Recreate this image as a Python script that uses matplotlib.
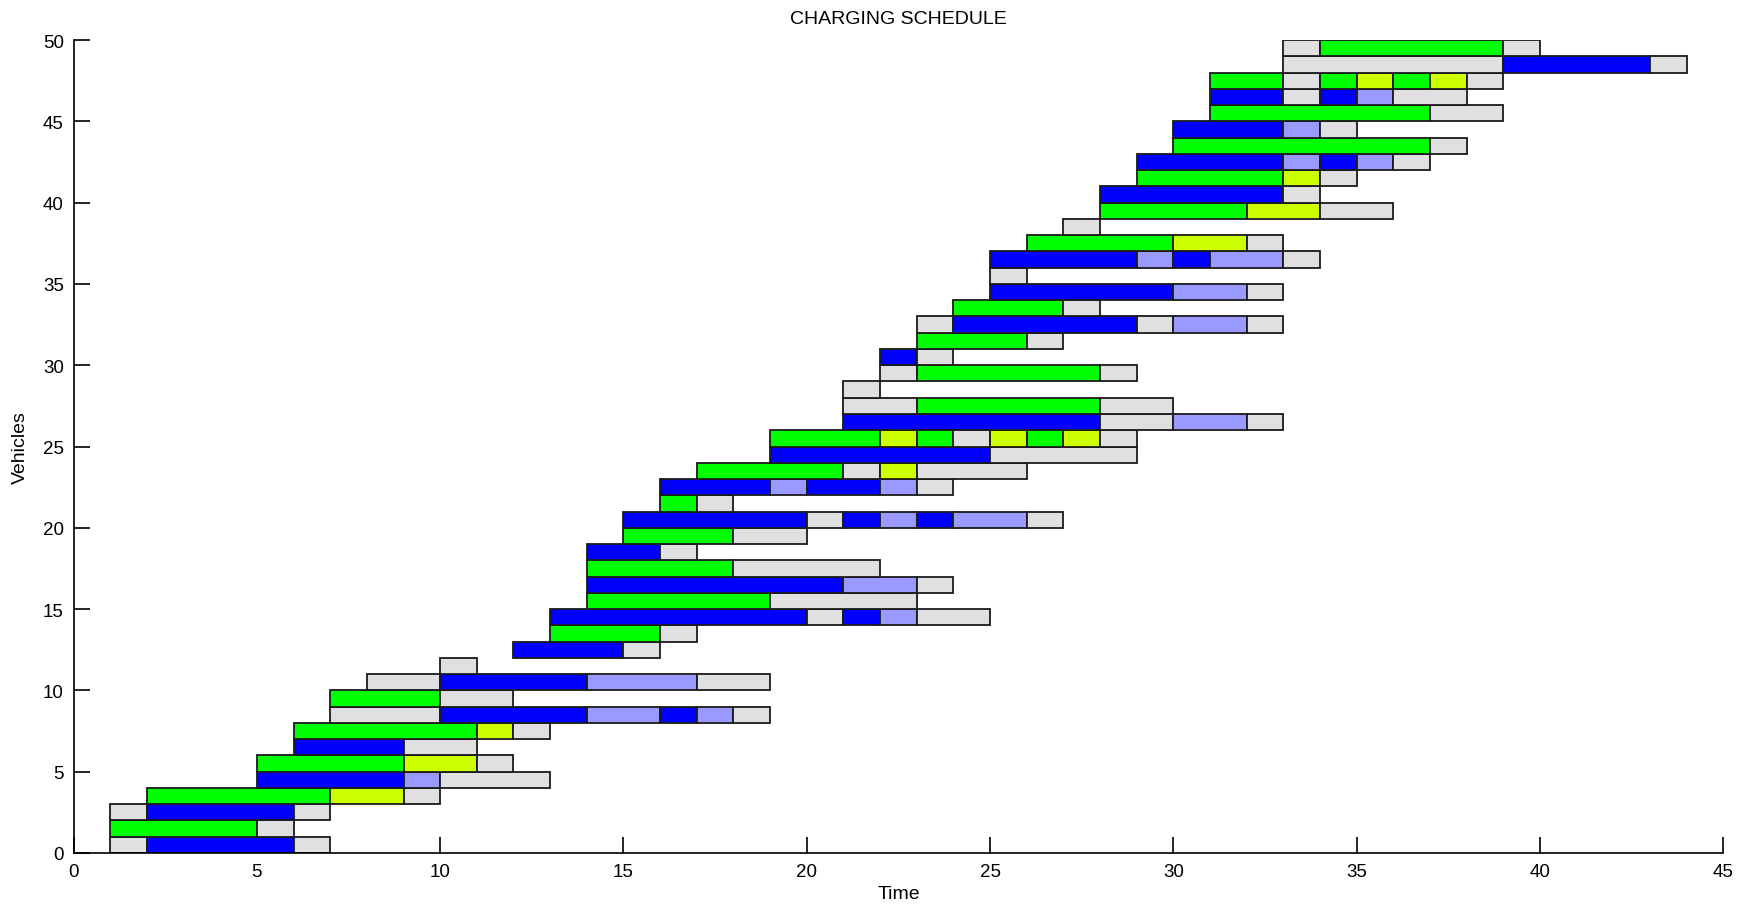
import matplotlib
matplotlib.use("Agg")
import matplotlib.pyplot as plt

# colores de cada estado
colores = {
    "B": "#0000ff",   # cargando
    "L": "#9999ff",   # cargando (reducido)
    "G": "#00ff00",   # descargando
    "Y": "#ccff00",   # descargando (reducido)
    "W": "#e0e0e0",   # esperando
}

# agenda de cada vehiculo: (estado, inicio, fin)
agenda = [
    [("W", 1, 2), ("B", 2, 6), ("W", 6, 7)],
    [("G", 1, 5), ("W", 5, 6)],
    [("W", 1, 2), ("B", 2, 6), ("W", 6, 7)],
    [("G", 2, 7), ("Y", 7, 9), ("W", 9, 10)],
    [("B", 5, 9), ("L", 9, 10), ("W", 10, 13)],
    [("G", 5, 9), ("Y", 9, 11), ("W", 11, 12)],
    [("B", 6, 9), ("W", 9, 11)],
    [("G", 6, 11), ("Y", 11, 12), ("W", 12, 13)],
    [("W", 7, 10), ("B", 10, 14), ("L", 14, 16), ("B", 16, 17), ("L", 17, 18), ("W", 18, 19)],
    [("G", 7, 10), ("W", 10, 12)],
    [("W", 8, 10), ("B", 10, 14), ("L", 14, 17), ("W", 17, 19)],
    [("W", 10, 11)],
    [("B", 12, 15), ("W", 15, 16)],
    [("G", 13, 16), ("W", 16, 17)],
    [("B", 13, 20), ("W", 20, 21), ("B", 21, 22), ("L", 22, 23), ("W", 23, 25)],
    [("G", 14, 19), ("W", 19, 23)],
    [("B", 14, 21), ("L", 21, 23), ("W", 23, 24)],
    [("G", 14, 18), ("W", 18, 22)],
    [("B", 14, 16), ("W", 16, 17)],
    [("G", 15, 18), ("W", 18, 20)],
    [("B", 15, 20), ("W", 20, 21), ("B", 21, 22), ("L", 22, 23), ("B", 23, 24), ("L", 24, 26), ("W", 26, 27)],
    [("G", 16, 17), ("W", 17, 18)],
    [("B", 16, 19), ("L", 19, 20), ("B", 20, 22), ("L", 22, 23), ("W", 23, 24)],
    [("G", 17, 21), ("W", 21, 22), ("Y", 22, 23), ("W", 23, 26)],
    [("B", 19, 25), ("W", 25, 29)],
    [("G", 19, 22), ("Y", 22, 23), ("G", 23, 24), ("W", 24, 25), ("Y", 25, 26), ("G", 26, 27), ("Y", 27, 28), ("W", 28, 29)],
    [("B", 21, 28), ("W", 28, 30), ("L", 30, 32), ("W", 32, 33)],
    [("W", 21, 23), ("G", 23, 28), ("W", 28, 30)],
    [("W", 21, 22)],
    [("W", 22, 23), ("G", 23, 28), ("W", 28, 29)],
    [("B", 22, 23), ("W", 23, 24)],
    [("G", 23, 26), ("W", 26, 27)],
    [("W", 23, 24), ("B", 24, 29), ("W", 29, 30), ("L", 30, 32), ("W", 32, 33)],
    [("G", 24, 27), ("W", 27, 28)],
    [("B", 25, 30), ("L", 30, 32), ("W", 32, 33)],
    [("W", 25, 26)],
    [("B", 25, 29), ("L", 29, 30), ("B", 30, 31), ("L", 31, 33), ("W", 33, 34)],
    [("G", 26, 30), ("Y", 30, 32), ("W", 32, 33)],
    [("W", 27, 28)],
    [("G", 28, 32), ("Y", 32, 34), ("W", 34, 36)],
    [("B", 28, 33), ("W", 33, 34)],
    [("G", 29, 33), ("Y", 33, 34), ("W", 34, 35)],
    [("B", 29, 33), ("L", 33, 34), ("B", 34, 35), ("L", 35, 36), ("W", 36, 37)],
    [("G", 30, 37), ("W", 37, 38)],
    [("B", 30, 33), ("L", 33, 34), ("W", 34, 35)],
    [("G", 31, 37), ("W", 37, 39)],
    [("B", 31, 33), ("W", 33, 34), ("B", 34, 35), ("L", 35, 36), ("W", 36, 38)],
    [("G", 31, 33), ("W", 33, 34), ("G", 34, 35), ("Y", 35, 36), ("G", 36, 37), ("Y", 37, 38), ("W", 38, 39)],
    [("W", 33, 39), ("B", 39, 43), ("W", 43, 44)],
    [("W", 33, 34), ("G", 34, 39), ("W", 39, 40)],
]

x_ticks = list(range(0, 46, 5))
y_ticks = list(range(0, 51, 5))

plt.rcParams["font.family"] = ["Liberation Sans", "DejaVu Sans"]

fig = plt.figure(figsize=(17.46, 9.12), dpi=100)
ax = fig.add_axes([0.0421, 0.0636, 0.945, 0.8914])

for fila, tramos in enumerate(agenda):
    for estado, t0, t1 in tramos:
        ax.barh(fila + 0.5, t1 - t0, left=t0, height=1,
                color=colores[estado], edgecolor="#1a1a1a", linewidth=1.3)

ax.set_xlim(0, 45)
ax.set_ylim(0, 50)
ax.set_xticks(x_ticks)
ax.set_yticks(y_ticks)
ax.set_axisbelow(True)  # las marcas quedan detras de las barras
ax.tick_params(direction="in", length=11.5, width=1.2, labelsize=13.5, pad=7)

for lado in ["top", "right"]:
    ax.spines[lado].set_visible(False)
for lado in ["left", "bottom"]:
    ax.spines[lado].set_linewidth(1.2)

ax.set_title("CHARGING SCHEDULE", fontsize=14, pad=12)
ax.set_xlabel("Time", fontsize=14, labelpad=4)
ax.set_ylabel("Vehicles", fontsize=14, labelpad=10)

fig.savefig("out.png", dpi=100)
